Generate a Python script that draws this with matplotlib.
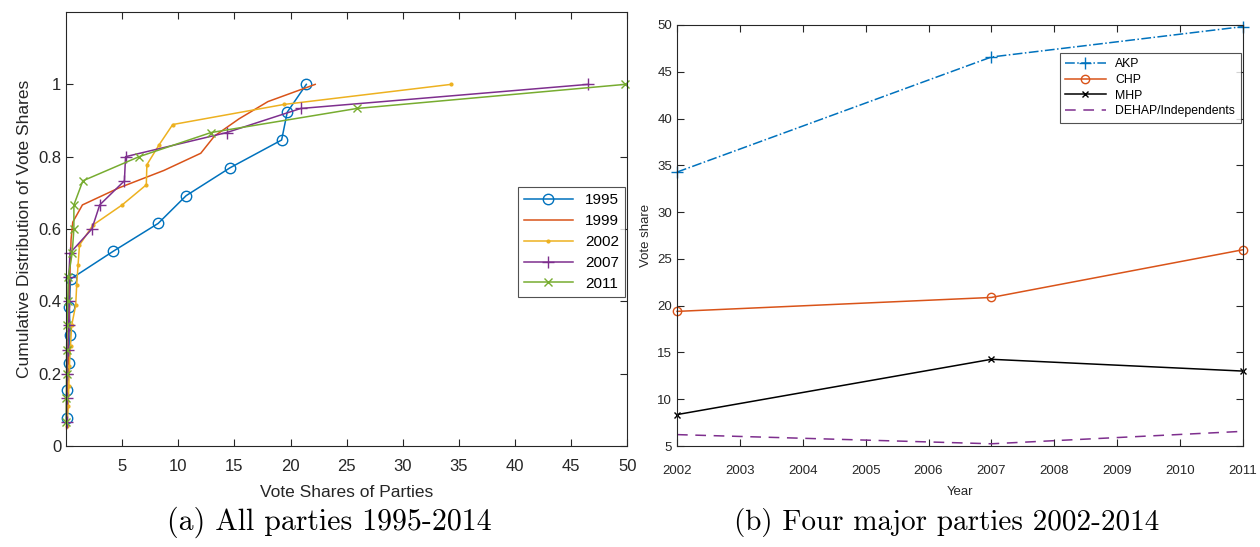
import numpy as np
import matplotlib
matplotlib.use("Agg")
import matplotlib.pyplot as plt

plt.rcParams['font.family'] = ['Liberation Sans', 'DejaVu Sans']

# panel (a): sorted vote shares per election, cumulative share of parties
shares_1995 = [0.05, 0.1, 0.25, 0.35, 0.3, 0.4, 4.2, 8.2, 10.7, 14.6, 19.2, 19.7, 21.4]
shares_1999 = [0.05, 0.1, 0.1, 0.15, 0.2, 0.2, 0.25, 0.3, 0.3, 0.35, 0.4, 0.45, 0.6,
               1.46, 4.75, 8.71, 12.0, 13.22, 15.41, 17.98, 22.19]
shares_2002 = [0.1, 0.2, 0.25, 0.3, 0.4, 0.5, 0.86, 0.95, 1.07, 1.2, 2.4, 5.0,
               7.15, 7.2, 8.3, 9.5, 19.4, 34.3]
shares_2007 = [0.05, 0.05, 0.1, 0.15, 0.25, 0.25, 0.25, 0.35, 2.3, 3.0, 5.2, 5.3,
               14.3, 20.9, 46.5]
shares_2011 = [0.02, 0.03, 0.05, 0.05, 0.1, 0.15, 0.2, 0.55, 0.7, 0.7, 1.5, 6.5,
               12.9, 25.9, 49.8]
years_a = ['1995', '1999', '2002', '2007', '2011']

# panel (b): four major parties
years_b = [2002, 2007, 2011]
akp = [34.28, 46.58, 49.83]
chp = [19.39, 20.88, 25.98]
mhp = [8.36, 14.27, 13.01]
dehap = [6.22, 5.24, 6.57]

blue, orange, yellow, purple, green = '#0072BD', '#D95319', '#EDB120', '#7E2F8E', '#77AC30'

fig = plt.figure(figsize=(12.6, 5.47), dpi=100)
ax1 = fig.add_axes([0.0524, 0.1846, 0.4456, 0.7934])
ax2 = fig.add_axes([0.5373, 0.1846, 0.4492, 0.7697])

styles = [
    dict(color=blue, marker='o', ms=7.5, mfc='none', mew=1.0),
    dict(color=orange),
    dict(color=yellow, marker='.', ms=4),
    dict(color=purple, marker='+', ms=9, mew=1.0),
    dict(color=green, marker='x', ms=6, mew=1.0),
]
for shares, lab, st in zip([shares_1995, shares_1999, shares_2002, shares_2007, shares_2011],
                           years_a, styles):
    n = len(shares)
    y = np.arange(1, n + 1) / n
    ax1.plot(shares, y, lw=1.1, label=lab, clip_on=False, **st)

ax1.set_xlim(0, 50)
ax1.set_ylim(0, 1.2)
ax1.set_xticks(np.arange(5, 51, 5))
ax1.set_yticks([0, 0.2, 0.4, 0.6, 0.8, 1.0])
ax1.set_yticklabels(['0', '0.2', '0.4', '0.6', '0.8', '1'])
ax1.set_xlabel('Vote Shares of Parties', fontsize=12.5, color='#262626', labelpad=8)
ax1.set_ylabel('Cumulative Distribution of Vote Shares', fontsize=12.5, color='#262626')
leg1 = ax1.legend(loc='center right', bbox_to_anchor=(1.0, 0.47), fontsize=11,
                  frameon=True, fancybox=False, edgecolor='#262626', handlelength=3.2,
                  borderaxespad=0.15, labelspacing=0.45)
leg1.get_frame().set_linewidth(0.8)

ax2.plot(years_b, akp, color=blue, ls='-.', marker='+', ms=9, mew=1.0, lw=1.1,
         label='AKP', clip_on=False)
ax2.plot(years_b, chp, color=orange, marker='o', ms=6, mfc='none', mew=1.0, lw=1.1,
         label='CHP', clip_on=False)
ax2.plot(years_b, mhp, color='black', marker='x', ms=4.5, mew=1.0, lw=1.1,
         label='MHP', clip_on=False)
ax2.plot(years_b, dehap, color=purple, ls=(0, (7, 5)), lw=1.1, label='DEHAP/Independents')
ax2.set_xlim(2002, 2011)
ax2.set_ylim(5, 50)
ax2.set_xticks(range(2002, 2012))
ax2.set_yticks(range(5, 51, 5))
ax2.set_xlabel('Year', fontsize=9.5, color='#262626', labelpad=6)
ax2.set_ylabel('Vote share', fontsize=9.5, color='#262626', labelpad=4)
leg2 = ax2.legend(loc='upper right', bbox_to_anchor=(0.996, 0.934), fontsize=8.8,
                  frameon=True, fancybox=False, edgecolor='#262626', handlelength=3.3,
                  labelspacing=0.3, borderpad=0.45, borderaxespad=0)
leg2.get_frame().set_linewidth(0.8)

for ax, fs in [(ax1, 12), (ax2, 9.5)]:
    ax.tick_params(direction='in', top=True, right=True, length=5, width=0.8,
                   labelsize=fs, colors='#262626')
    for sp in ax.spines.values():
        sp.set_color('#262626')
        sp.set_linewidth(0.8)
ax1.tick_params(axis='x', pad=9)
ax2.tick_params(axis='x', pad=14)

fig.text(0.261, 0.045, '(a) All parties 1995-2014', family='cmr10', fontsize=21.5,
         ha='center', va='center')
fig.text(0.751, 0.045, '(b) Four major parties 2002-2014', family='cmr10', fontsize=21,
         ha='center', va='center')

fig.savefig('out.png', dpi=100)
